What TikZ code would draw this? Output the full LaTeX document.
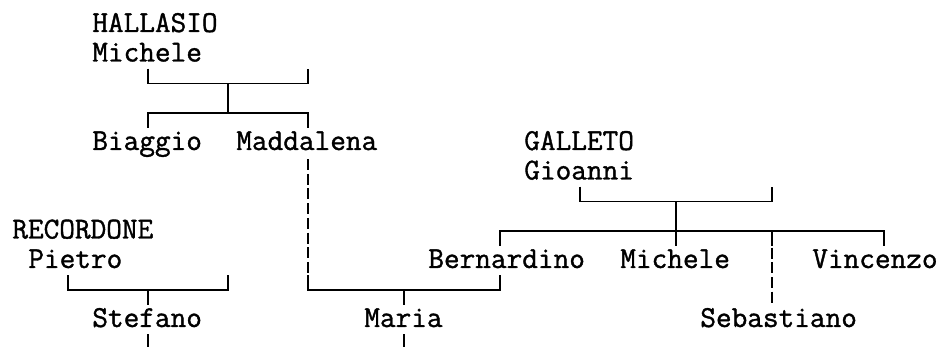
\documentclass[tikz,border=0pt]{standalone}
\usepackage{fontspec}
\usepackage{tikz}
\newfontfamily\treefont[FakeBold=1.2]{Latin Modern Mono}

\begin{document}
\begin{tikzpicture}[x=0.32cm,y=-0.59cm,
  person/.style={anchor=base west,inner sep=0pt,font=\treefont\fontsize{17.3pt}{20pt}\selectfont},
  link/.style={line width=1.1pt},
  lost/.style={line width=1.1pt,dash pattern=on 6.26pt off 2.1pt,dash phase=7.31pt}]
  \useasboundingbox (-0.75,-0.8305) rectangle (58.1875,10.932);
  \node[person] (hallasio) at (5,0.254) {HALLASIO};
  \node[person] (michele1) at (5,1.254) {Michele};
  \node[person] (biaggio) at (5,4.254) {Biaggio};
  \node[person] (maddalena) at (14,4.254) {Maddalena};
  \node[person] (galleto) at (32,4.254) {GALLETO};
  \node[person] (gioanni) at (32,5.254) {Gioanni};
  \node[person] (recordone) at (0,7.254) {RECORDONE};
  \node[person] (pietro) at (1,8.254) {Pietro};
  \node[person] (bernardino) at (26,8.254) {Bernardino};
  \node[person] (michele2) at (38,8.254) {Michele};
  \node[person] (vincenzo) at (50,8.254) {Vincenzo};
  \node[person] (stefano) at (5,10.254) {Stefano};
  \node[person] (maria) at (22,10.254) {Maria};
  \node[person] (sebastiano) at (43,10.254) {Sebastiano};
  \coordinate (h1) at (8.5,1.5);
  \coordinate (h2) at (18.5,1.5);
  \coordinate (hm) at (13.5,2);
  \coordinate (hc) at (13.5,3);
  \coordinate (hb) at (8.5,3.5);
  \coordinate (hd) at (18.5,3.5);
  \draw[link] (h1) |- (hm) -| (h2);
  \draw[link] (hm) -- (hc);
  \draw[link] (hb) |- (hc) -| (hd);
  \coordinate (md) at (18.5,4.5);
  \coordinate (mr) at (18.5,8.5);
  \coordinate (mm) at (24.5,9);
  \coordinate (mt) at (24.5,9.5);
  \coordinate (bm) at (30.5,8.5);
  \coordinate (mb) at (24.5,10.5);
  \coordinate (me) at (24.5,10.932);
  \draw[lost] (md) -- (mr);
  \draw[link] (mr) |- (mm) -| (bm);
  \draw[link] (mm) -- (mt);
  \draw[link] (mb) -- (me);
  \coordinate (g1) at (35.5,5.5);
  \coordinate (g2) at (47.5,5.5);
  \coordinate (gm) at (41.5,6);
  \coordinate (gc) at (41.5,7);
  \coordinate (gx) at (41.5,7.5);
  \coordinate (gb) at (30.5,7.5);
  \coordinate (gv) at (54.5,7.5);
  \coordinate (gs) at (47.5,7.5);
  \coordinate (gt) at (47.5,9.5);
  \draw[link] (g1) |- (gm) -| (g2);
  \draw[link] (gm) -- (gx);
  \draw[link] (gb) |- (gc) -| (gv);
  \draw[link] (gc -| gs) -- (gs);
  \draw[lost] (gs) -- (gt);
  \coordinate (r1) at (3.5,8.5);
  \coordinate (r2) at (13.5,8.5);
  \coordinate (rm) at (8.5,9);
  \coordinate (rs) at (8.5,9.5);
  \coordinate (sb) at (8.5,10.5);
  \coordinate (se) at (8.5,10.932);
  \draw[link] (r1) |- (rm) -| (r2);
  \draw[link] (rm) -- (rs);
  \draw[link] (sb) -- (se);
\end{tikzpicture}
\end{document}
